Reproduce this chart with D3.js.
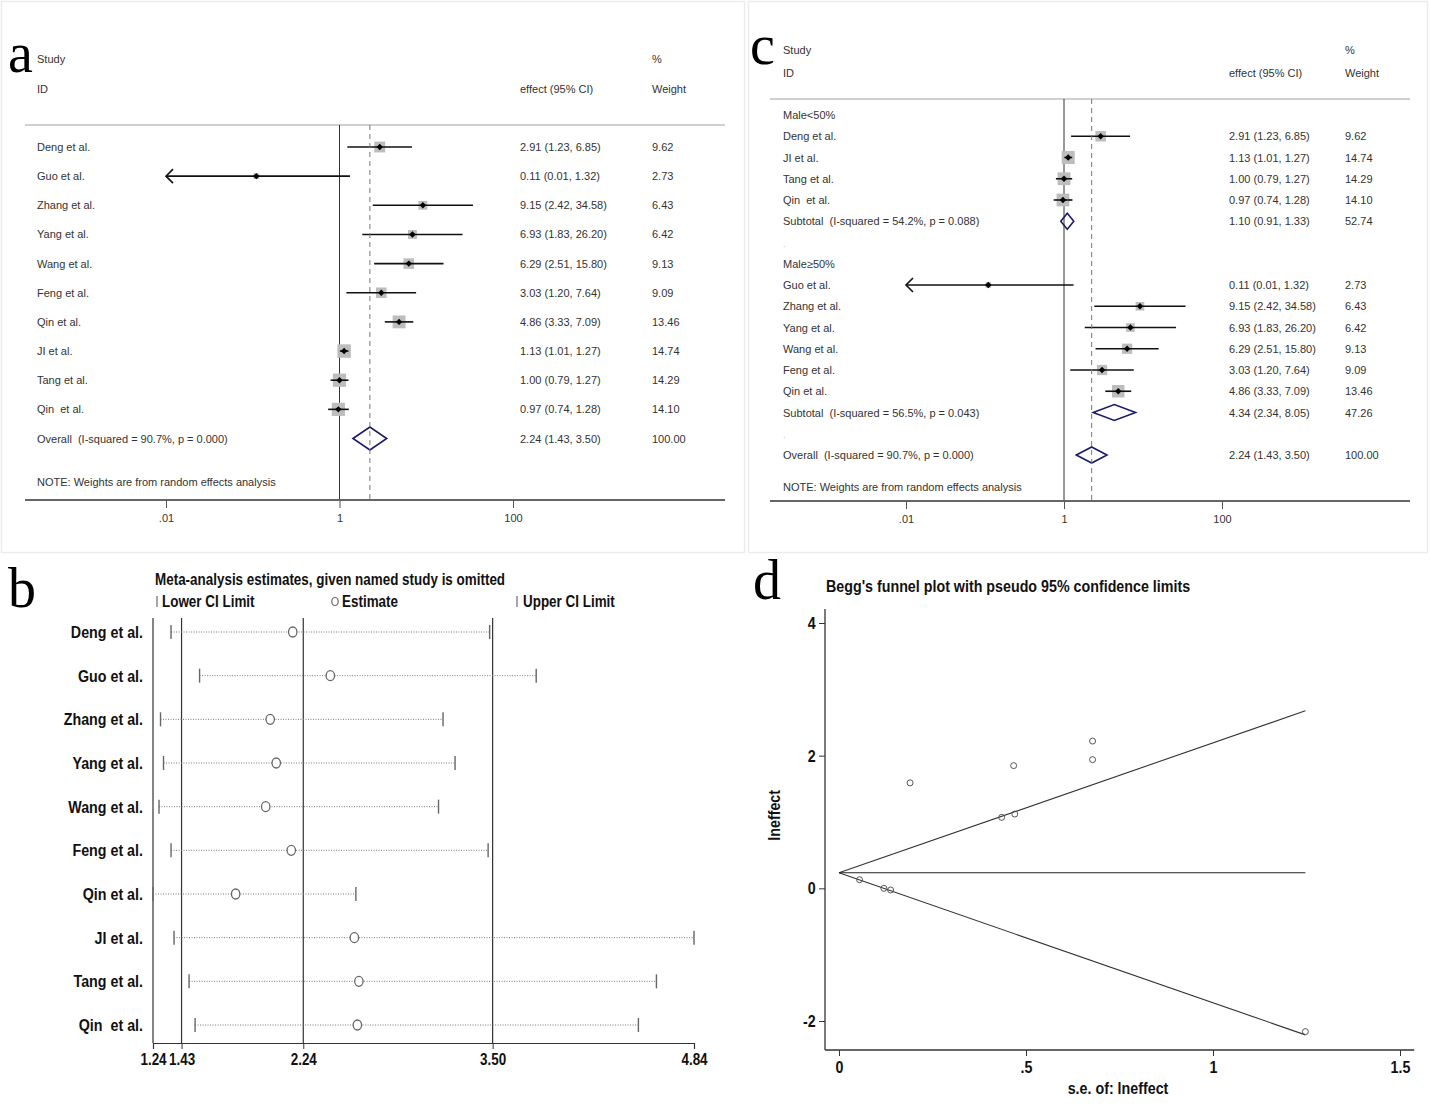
<!DOCTYPE html>
<html><head><meta charset="utf-8">
<script src="https://cdn.jsdelivr.net/npm/d3@7"></script>
<style>body{margin:0;background:#fff} svg text{white-space:pre}</style>
</head><body>
<svg id="fig" width="1430" height="1114" xmlns="http://www.w3.org/2000/svg"></svg>
<script>
// ---------------- DATA ----------------
const studies   = ["Deng et al.","Guo et al.","Zhang et al.","Yang et al.","Wang et al.","Feng et al.","Qin et al.","JI et al.","Tang et al.","Qin  et al."];
const effects   = [2.91, 0.11, 9.15, 6.93, 6.29, 3.03, 4.86, 1.13, 1.00, 0.97];
const lowerCI   = [1.23, 0.01, 2.42, 1.83, 2.51, 1.20, 3.33, 1.01, 0.79, 0.74];
const upperCI   = [6.85, 1.32, 34.58, 26.20, 15.80, 7.64, 7.09, 1.27, 1.27, 1.28];
const weights   = [9.62, 2.73, 6.43, 6.42, 9.13, 9.09, 13.46, 14.74, 14.29, 14.10];
const overallEffect = [2.24, 1.43, 3.50];      // estimate, lower, upper
const overallWeight = 100.00;
const overallI2 = ["90.7%", "0.000"];

const groupLabels     = ["Male<50%", "Male\u226550%"];
const groupMembers    = [[0, 7, 8, 9], [1, 2, 3, 4, 5, 6]];
const subtotalEffects = [1.10, 4.34];
const subtotalLower   = [0.91, 2.34];
const subtotalUpper   = [1.33, 8.05];
const subtotalWeights = [52.74, 47.26];
const subtotalI2      = ["54.2%", "56.5%"];
const subtotalP       = ["0.088", "0.043"];

const forestTicks      = [0.01, 1, 100];
const forestTickLabels = [".01", "1", "100"];

// panel b: leave-one-out
const omitEstimate = [2.17, 2.42, 2.02, 2.06, 1.99, 2.16, 1.79, 2.58, 2.61, 2.60];
const omitLower    = [1.36, 1.55, 1.29, 1.31, 1.28, 1.36, 1.24, 1.38, 1.48, 1.52];
const omitUpper    = [3.48, 3.79, 3.17, 3.25, 3.14, 3.47, 2.59, 4.84, 4.59, 4.47];
const bTicks       = [1.24, 1.43, 2.24, 3.50, 4.84];
const bTickLabels  = ["1.24", "1.43", "2.24", "3.50", "4.84"];
const bRefLines    = [1.43, 2.24, 3.50];

// panel d: Begg's funnel
const funnelSE       = [0.435, 1.247, 0.678, 0.678, 0.467, 0.470, 0.190, 0.055, 0.120, 0.138];
const funnelLnEffect = [1.07, -2.16, 2.22, 1.94, 1.85, 1.12, 1.59, 0.13, 0.00, -0.025];
const funnelPooled   = 0.234;
const funnelMaxSE    = 1.247;
const funnelLimitEnds = [2.677, -2.209];   // upper, lower pseudo-95% limits at max s.e.
const dYTicks = [-2, 0, 2, 4];
const dXTicks = [0, 0.5, 1, 1.5];
const dXTickLabels = ["0", ".5", "1", "1.5"];

// ---------------- HELPERS ----------------
const svg = d3.select("#fig");
svg.append("rect").attr("width",1430).attr("height",1114).attr("fill","#fff");
const REG = "'Liberation Sans', Arial, sans-serif";
const NAR = "'Liberation Sans Narrow', 'Arial Narrow', 'Liberation Sans', Arial, sans-serif";
const SERIF = "'Liberation Serif', 'Times New Roman', serif";
const SQ = 0.84;  // horizontal condensing for the narrow bold face
const f2 = d3.format(".2f");
const ciText = (e,l,u) => `${f2(e)} (${f2(l)}, ${f2(u)})`;

function txt(g, x, y, s, size, opts={}) {
  return g.append("text").attr("x", x).attr("y", y).text(s)
    .attr("font-family", opts.family || REG).attr("font-size", size)
    .attr("font-weight", opts.weight || "normal")
    .attr("fill", opts.fill || "#333")
    .attr("text-anchor", opts.anchor || "start");
}
function ntxt(g, x, y, s, size, anchor="start", rot=0) {
  return g.append("text").attr("x", 0).attr("y", 0).text(s)
    .attr("font-family", NAR).attr("font-size", size).attr("font-weight", "bold")
    .attr("fill", "#111").attr("text-anchor", anchor)
    .attr("transform", `translate(${x},${y})` + (rot ? ` rotate(${rot})` : "") + ` scale(${SQ},1)`);
}
function condenseAxis(a, size) {
  a.selectAll("text").attr("font-family", NAR).attr("font-weight", "bold").attr("font-size", size).attr("fill", "#111")
    .attr("transform", `scale(${SQ},1)`);
}

// panel frames (a, c)
svg.append("rect").attr("x",1.5).attr("y",1.5).attr("width",743).attr("height",551)
  .attr("fill","none").attr("stroke","#ececec").attr("stroke-width",1.5);
svg.append("rect").attr("x",748.5).attr("y",1.5).attr("width",679).attr("height",551)
  .attr("fill","none").attr("stroke","#ececec").attr("stroke-width",1.5);

// ---------------- FOREST PLOT ----------------
function forest(cfg) {
  const g = svg.append("g");
  const x = d3.scaleLog().domain([0.01, 100]).range(cfg.xRange);
  const xmin = 0.01, xmax = 100;
  txt(g, cfg.letterX, cfg.letterY, cfg.letter, 56, {family: SERIF, fill: "#000"});
  txt(g, cfg.textX, cfg.hdr1, "Study", 11);
  txt(g, cfg.textX, cfg.hdr2, "ID", 11);
  txt(g, cfg.wX, cfg.hdr1, "%", 11);
  txt(g, cfg.effX, cfg.hdr2, "effect (95% CI)", 11);
  txt(g, cfg.wX, cfg.hdr2, "Weight", 11);
  g.append("line").attr("x1", cfg.left).attr("x2", cfg.right)
    .attr("y1", cfg.sepY).attr("y2", cfg.sepY).attr("stroke", "#cfcfcf").attr("stroke-width", 2);
  g.append("line").attr("x1", x(1)).attr("x2", x(1)).attr("y1", cfg.sepY).attr("y2", cfg.axisY)
    .attr("stroke", "#333").attr("stroke-width", 1);
  cfg.rows.forEach(r => {
    const y = r.y;
    if (r.type === "study") {
      const s = cfg.k * Math.sqrt(r.w);
      g.append("rect").attr("x", x(r.est) - s/2).attr("y", y - s/2)
        .attr("width", s).attr("height", s).attr("fill", "#bdbdbd");
      const x1 = x(Math.max(r.lo, xmin)), x2 = x(Math.min(r.hi, xmax));
      g.append("line").attr("x1", x1).attr("x2", x2).attr("y1", y).attr("y2", y)
        .attr("stroke", "#111").attr("stroke-width", 1.6);
      if (r.lo <= xmin) {
        g.append("path").attr("d", `M${x1+7},${y-7} L${x1},${y} L${x1+7},${y+7}`)
          .attr("fill", "none").attr("stroke", "#111").attr("stroke-width", 1.6);
      }
      const cx = x(r.est), h = 3.2;
      g.append("path").attr("d", `M${cx-h},${y} L${cx},${y-h} L${cx+h},${y} L${cx},${y+h} Z`).attr("fill", "#000");
      txt(g, cfg.textX, y + 4, r.label, 11);
      txt(g, cfg.effX, y + 4, ciText(r.est, r.lo, r.hi), 11);
      txt(g, cfg.wX, y + 4, f2(r.w), 11);
    } else if (r.type === "pooled") {
      const h = cfg.dh / 2;
      g.append("path").attr("d", `M${x(r.lo)},${y} L${x(r.est)},${y-h} L${x(r.hi)},${y} L${x(r.est)},${y+h} Z`)
        .attr("fill", "none").attr("stroke", "#1b1b6b").attr("stroke-width", 1.6);
      txt(g, cfg.textX, y + 4, r.label, 11);
      txt(g, cfg.effX, y + 4, ciText(r.est, r.lo, r.hi), 11);
      txt(g, cfg.wX, y + 4, f2(r.w), 11);
    } else if (r.type === "header") {
      txt(g, cfg.textX, y + 4, r.label, 11);
    } else if (r.type === "blank") {
      txt(g, cfg.textX, y + 4, ".", 9, {fill: "#bbb"});
    }
  });
  g.append("line").attr("x1", x(overallEffect[0])).attr("x2", x(overallEffect[0]))
    .attr("y1", cfg.sepY).attr("y2", cfg.axisY)
    .attr("stroke", "#777").attr("stroke-width", 1).attr("stroke-dasharray", "5,4");
  txt(g, cfg.textX, cfg.noteY, "NOTE: Weights are from random effects analysis", 11);
  g.append("line").attr("x1", cfg.left).attr("x2", cfg.right).attr("y1", cfg.axisY).attr("y2", cfg.axisY)
    .attr("stroke", "#666").attr("stroke-width", 2);
  const ax = g.append("g").attr("transform", `translate(0,${cfg.axisY})`)
    .call(d3.axisBottom(x).tickValues(forestTicks).tickFormat((d,i) => forestTickLabels[i]).tickSize(8).tickPadding(6));
  ax.select(".domain").remove();
  ax.selectAll("line").attr("stroke", "#555");
  ax.selectAll("text").attr("font-family", REG).attr("font-size", 11).attr("fill", "#333");
}

// panel a rows
const aRows = studies.map((s, i) => ({type: "study", label: s, est: effects[i], lo: lowerCI[i], hi: upperCI[i], w: weights[i]}));
aRows.push({type: "pooled", label: `Overall  (I-squared = ${overallI2[0]}, p = ${overallI2[1]})`,
  est: overallEffect[0], lo: overallEffect[1], hi: overallEffect[2], w: overallWeight});
aRows.forEach((r, i) => r.y = 147 + i * 29.15);
forest({letter: "a", letterX: 8, letterY: 72, xRange: [166, 513], left: 25, right: 725,
  textX: 37, effX: 520, wX: 652, hdr1: 63, hdr2: 93, sepY: 125, axisY: 500, noteY: 486,
  k: 3.5, dh: 23, rows: aRows});

// panel c rows
const cRows = [];
groupLabels.forEach((gl, gi) => {
  cRows.push({type: "header", label: gl});
  groupMembers[gi].forEach(i => cRows.push({type: "study", label: studies[i], est: effects[i], lo: lowerCI[i], hi: upperCI[i], w: weights[i]}));
  cRows.push({type: "pooled", label: `Subtotal  (I-squared = ${subtotalI2[gi]}, p = ${subtotalP[gi]})`,
    est: subtotalEffects[gi], lo: subtotalLower[gi], hi: subtotalUpper[gi], w: subtotalWeights[gi]});
  cRows.push({type: "blank"});
});
cRows.push({type: "pooled", label: `Overall  (I-squared = ${overallI2[0]}, p = ${overallI2[1]})`,
  est: overallEffect[0], lo: overallEffect[1], hi: overallEffect[2], w: overallWeight});
cRows.forEach((r, i) => r.y = 115 + i * 21.25);
forest({letter: "c", letterX: 750, letterY: 64, xRange: [906, 1222], left: 770, right: 1410,
  textX: 783, effX: 1229, wX: 1345, hdr1: 54, hdr2: 77, sepY: 99, axisY: 501, noteY: 491,
  k: 3.4, dh: 16, rows: cRows});

// ---------------- PANEL b ----------------
(function() {
  const g = svg.append("g");
  const x = d3.scaleLinear().domain([1.24, 4.84]).range([153, 694]);
  const y = d3.scalePoint().domain(studies).range([632, 1025]);
  const top = 618, axisY = 1043;
  txt(g, 8, 607, "b", 56, {family: SERIF, fill: "#000"});
  ntxt(g, 155, 585, "Meta-analysis estimates, given named study is omitted", 16);
  g.append("line").attr("x1", 157).attr("x2", 157).attr("y1", 596).attr("y2", 607).attr("stroke", "#888").attr("stroke-width", 1.5);
  ntxt(g, 162, 607, "Lower CI Limit", 16);
  g.append("ellipse").attr("cx", 335).attr("cy", 601.5).attr("rx", 3.2).attr("ry", 4).attr("fill", "none").attr("stroke", "#666").attr("stroke-width", 1.2);
  ntxt(g, 342, 607, "Estimate", 16);
  g.append("line").attr("x1", 517).attr("x2", 517).attr("y1", 596).attr("y2", 607).attr("stroke", "#888").attr("stroke-width", 1.5);
  ntxt(g, 523, 607, "Upper CI Limit", 16);
  g.append("line").attr("x1", x(1.24)).attr("x2", x(1.24)).attr("y1", top).attr("y2", axisY).attr("stroke", "#333").attr("stroke-width", 1.2);
  bRefLines.forEach(v => g.append("line").attr("x1", x(v)).attr("x2", x(v)).attr("y1", top).attr("y2", axisY)
    .attr("stroke", "#333").attr("stroke-width", 1.2));
  const ax = g.append("g").attr("transform", `translate(0,${axisY})`)
    .call(d3.axisBottom(x).tickValues(bTicks).tickFormat((d,i) => bTickLabels[i]).tickSize(6).tickPadding(5));
  ax.select(".domain").attr("stroke", "#333").attr("stroke-width", 1.2);
  ax.selectAll("line").attr("stroke", "#333");
  condenseAxis(ax, 16);
  studies.forEach((s, i) => {
    const yy = y(s);
    ntxt(g, 143, yy + 6, s, 17, "end");
    g.append("line").attr("x1", x(omitLower[i])).attr("x2", x(omitUpper[i])).attr("y1", yy).attr("y2", yy)
      .attr("stroke", "#777").attr("stroke-width", 1).attr("stroke-dasharray", "1,1.5");
    [omitLower[i], omitUpper[i]].forEach(v => g.append("line").attr("x1", x(v)).attr("x2", x(v))
      .attr("y1", yy - 7).attr("y2", yy + 7).attr("stroke", "#666").attr("stroke-width", 1.4));
    g.append("ellipse").attr("cx", x(omitEstimate[i])).attr("cy", yy).attr("rx", 4.2).attr("ry", 5)
      .attr("fill", "#fff").attr("stroke", "#666").attr("stroke-width", 1.3);
  });
})();

// ---------------- PANEL d ----------------
(function() {
  const g = svg.append("g");
  const x = d3.scaleLinear().domain([0, 1.5]).range([839, 1400]);
  const y = d3.scaleLinear().domain([-2, 4]).range([1021, 623]);
  txt(g, 753, 599, "d", 56, {family: SERIF, fill: "#000"});
  ntxt(g, 826, 592, "Begg's funnel plot with pseudo 95% confidence limits", 17);
  const axX = 825, axY = 1050;
  g.append("line").attr("x1", axX).attr("x2", axX).attr("y1", y(4.21)).attr("y2", axY).attr("stroke", "#333").attr("stroke-width", 1.3);
  g.append("line").attr("x1", axX).attr("x2", x(1.538)).attr("y1", axY).attr("y2", axY).attr("stroke", "#333").attr("stroke-width", 1.3);
  const ya = g.append("g").attr("transform", `translate(${axX},0)`)
    .call(d3.axisLeft(y).tickValues(dYTicks).tickFormat(d3.format("d")).tickSize(6).tickPadding(5));
  ya.select(".domain").remove();
  const xa = g.append("g").attr("transform", `translate(0,${axY})`)
    .call(d3.axisBottom(x).tickValues(dXTicks).tickFormat((d,i) => dXTickLabels[i]).tickSize(6).tickPadding(5));
  xa.select(".domain").remove();
  [ya, xa].forEach(a => {
    a.selectAll("line").attr("stroke", "#333");
    condenseAxis(a, 17);
  });
  ya.selectAll("text").text((d) => d < 0 ? "-" + Math.abs(d) : d);
  ntxt(g, 780, y(1.1), "lneffect", 17, "middle", -90);
  ntxt(g, 1118, 1094, "s.e. of: lneffect", 17, "middle");
  const apex = [x(0), y(funnelPooled)];
  g.append("line").attr("x1", apex[0]).attr("y1", apex[1]).attr("x2", x(funnelMaxSE)).attr("y2", y(funnelLimitEnds[0])).attr("stroke", "#333").attr("stroke-width", 1.1);
  g.append("line").attr("x1", apex[0]).attr("y1", apex[1]).attr("x2", x(funnelMaxSE)).attr("y2", y(funnelLimitEnds[1])).attr("stroke", "#333").attr("stroke-width", 1.1);
  g.append("line").attr("x1", apex[0]).attr("y1", apex[1]).attr("x2", x(funnelMaxSE)).attr("y2", y(funnelPooled)).attr("stroke", "#222").attr("stroke-width", 1.1);
  funnelSE.forEach((s, i) => {
    g.append("circle").attr("cx", x(s)).attr("cy", y(funnelLnEffect[i])).attr("r", 3)
      .attr("fill", "none").attr("stroke", "#555").attr("stroke-width", 1);
  });
})();
</script>
</body></html>
